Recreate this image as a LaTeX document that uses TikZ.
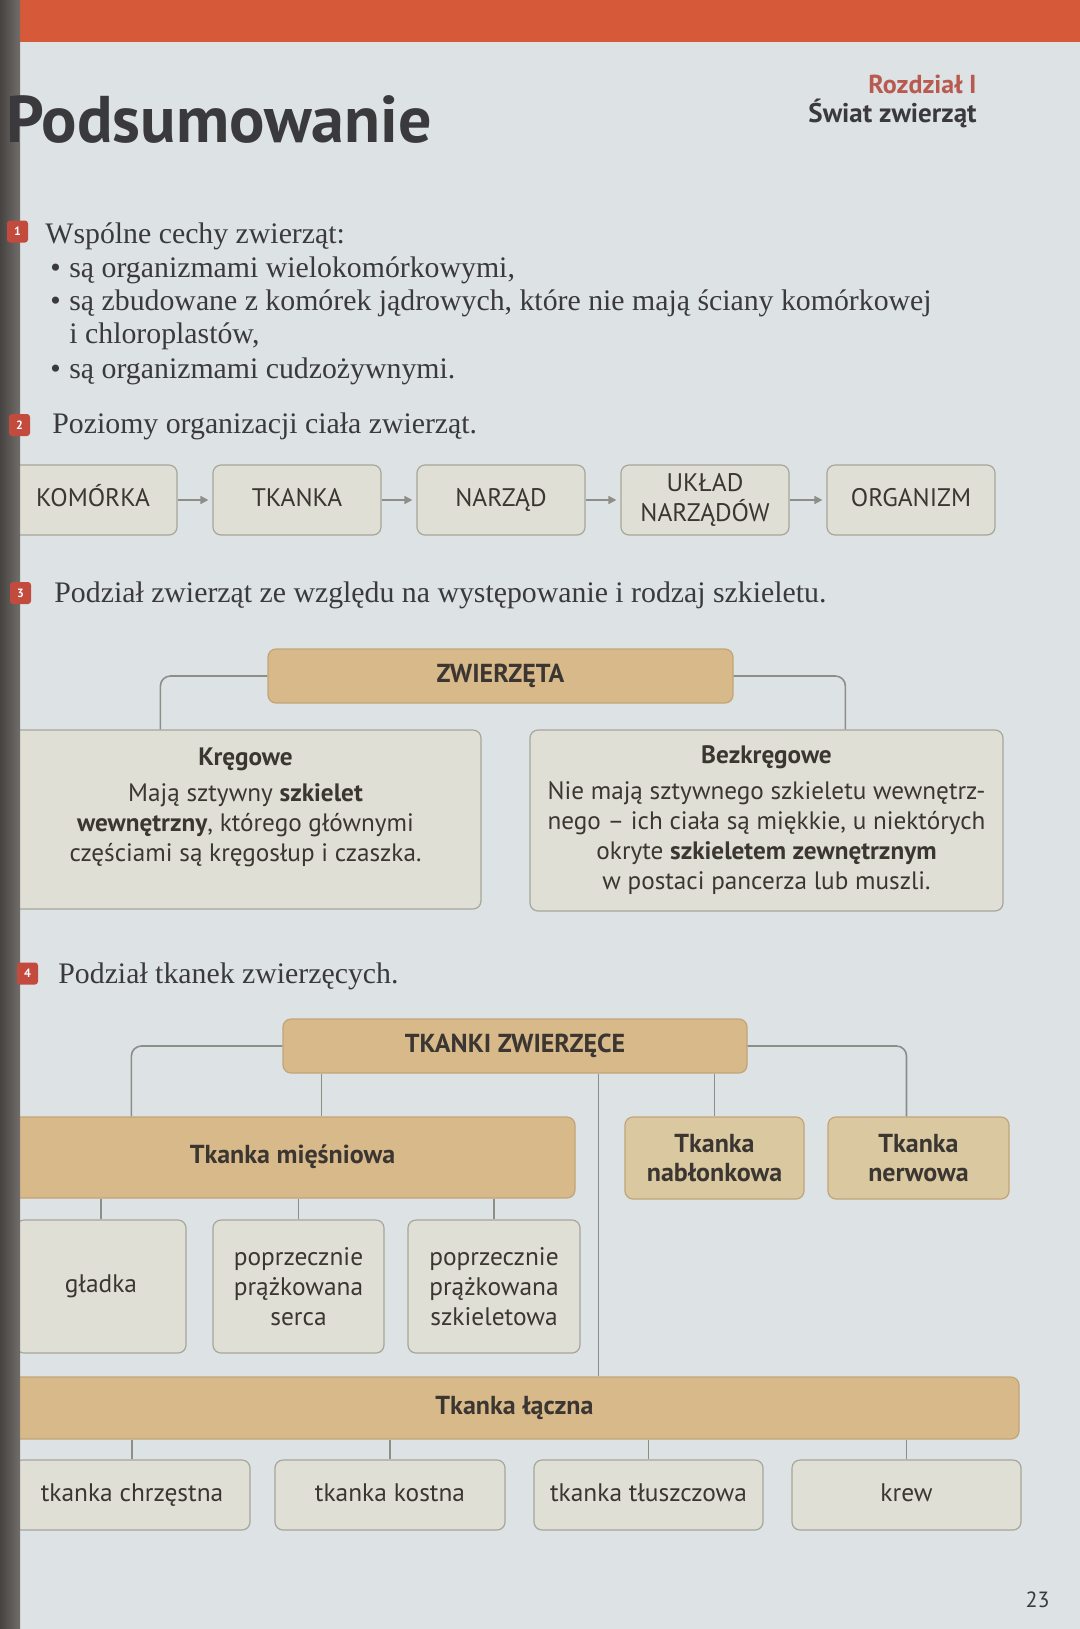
\documentclass[tikz,border=0pt]{standalone}
\usepackage{fontspec}
\setmainfont{Liberation Serif}
\setsansfont{PT Sans}
\usepackage{xcolor}
\usepackage{tikz}
\usetikzlibrary{calc,arrows.meta}
\definecolor{paper}{HTML}{DDE2E5}
\definecolor{band}{HTML}{D65A3A}
\definecolor{spine}{HTML}{5E5955}
\definecolor{tan}{HTML}{D8B98A}
\definecolor{tanline}{HTML}{C2A577}
\definecolor{tanlight}{HTML}{DAC8A0}
\definecolor{boxfill}{HTML}{DFDFD6}
\definecolor{boxline}{HTML}{A6A69A}
\definecolor{wirecol}{HTML}{8E8E88}
\definecolor{ink}{HTML}{3A3A3C}
\definecolor{boxink}{HTML}{3B3631}
\definecolor{markred}{HTML}{C24B3E}
\definecolor{chapter}{HTML}{B85A50}
\begin{document}
\begin{tikzpicture}[x=0.5pt,y=-0.5pt,
			lightbox/.style={draw=boxline,fill=boxfill,line width=0.6pt,rounded corners=4pt,font=\sffamily\fontsize{12.7}{15}\selectfont,text=boxink,align=center,inner sep=0pt},
			oneline/.style={text height=9pt,text depth=3pt},
			tanbox/.style={draw=tanline,fill=tan,line width=0.6pt,rounded corners=4pt,font=\sffamily\bfseries\fontsize{13}{14.5}\selectfont,text=boxink,align=center,inner sep=0pt},
			wire/.style={draw=wirecol,line width=0.8pt,rounded corners=5pt},
			flow/.style={draw=wirecol,line width=0.8pt,shorten >=2pt,-{Triangle[length=4pt,width=4pt]}},
			body/.style={font=\fontsize{14.9}{17}\selectfont,text=ink,anchor=base west,inner sep=0pt},
			numbox/.style={fill=markred,rounded corners=1.5pt,text=white,font=\sffamily\bfseries\fontsize{6}{6}\selectfont,inner sep=0pt,minimum width=10.5pt,minimum height=11pt}
		]
			\useasboundingbox (0,0) rectangle (1080,1629);
			\fill[paper] (0,0) rectangle (1080,1629);
			\fill[band] (0,0) rectangle (1080,42);

			\node[lightbox,oneline,minimum width=84pt,minimum height=35pt] (komorka) at (93,500) {KOMÓRKA};
			\node[lightbox,oneline,minimum width=84pt,minimum height=35pt] (tkanka) at (297,500) {TKANKA};
			\node[lightbox,oneline,minimum width=84pt,minimum height=35pt] (narzad) at (501,500) {NARZĄD};
			\node[lightbox,minimum width=84pt,minimum height=35pt] (uklad) at (705,500) {UKŁAD\\NARZĄDÓW};
			\node[lightbox,oneline,minimum width=84pt,minimum height=35pt] (organizm) at (911,500) {ORGANIZM};
			\draw[flow] (komorka) -- (tkanka);
			\draw[flow] (tkanka) -- (narzad);
			\draw[flow] (narzad) -- (uklad);
			\draw[flow] (uklad) -- (organizm);

			\node[tanbox,oneline,minimum width=232.5pt,minimum height=27pt] (zwierzeta) at (500.5,676) {ZWIERZĘTA};
			\node[lightbox,font=\sffamily\fontsize{12.6}{15}\selectfont,minimum width=235.5pt,minimum height=89.5pt] (kregowe) at (245.5,819.5)
			{\textbf{Kręgowe}\\[3pt]Mają sztywny \textbf{szkielet}\\\textbf{wewnętrzny}, którego głównymi\\częściami są kręgosłup i czaszka.\\\mbox{}};
			\node[lightbox,font=\sffamily\fontsize{12.6}{15}\selectfont,minimum width=236.5pt,minimum height=90.5pt] (bezkregowe) at (766.5,820.5)
			{\textbf{Bezkręgowe}\\[3pt]Nie mają sztywnego szkieletu wewnętrz-\\nego – ich ciała są miękkie, u niektórych\\okryte \textbf{szkieletem zewnętrznym}\\w postaci pancerza lub muszli.};
			\draw[wire] (zwierzeta.west) -| ($(kregowe.north west)+(151,0)$);
			\draw[wire] (zwierzeta.east) -| ($(bezkregowe.north west)+(316,0)$);

			\node[tanbox,oneline,minimum width=232pt,minimum height=27pt] (tkanki) at (515,1046) {TKANKI ZWIERZĘCE};
			\node[tanbox,oneline,minimum width=282.5pt,minimum height=40.5pt] (miesniowa) at (292.5,1157.5) {Tkanka mięśniowa};
			\node[tanbox,fill=tanlight,minimum width=89.5pt,minimum height=41pt] (nablonkowa) at (714.5,1158) {Tkanka\\nabłonkowa};
			\node[tanbox,fill=tanlight,minimum width=90.5pt,minimum height=41pt] (nerwowa) at (918.5,1158) {Tkanka\\nerwowa};
			\node[lightbox,oneline,minimum width=85pt,minimum height=66.5pt] (gladka) at (101,1286.5) {gładka};
			\node[lightbox,minimum width=85.5pt,minimum height=66.5pt] (serca) at (298.5,1286.5) {poprzecznie\\prążkowana\\serca};
			\node[lightbox,minimum width=86pt,minimum height=66.5pt] (szkieletowa) at (494,1286.5) {poprzecznie\\prążkowana\\szkieletowa};
			\node[tanbox,oneline,minimum width=504.5pt,minimum height=31pt] (laczna) at (514.5,1408) {Tkanka łączna};
			\node[lightbox,oneline,minimum width=118pt,minimum height=35pt] (chrzestna) at (132,1495) {tkanka chrzęstna};
			\node[lightbox,oneline,minimum width=115pt,minimum height=35pt] (kostna) at (390,1495) {tkanka kostna};
			\node[lightbox,oneline,minimum width=114.5pt,minimum height=35pt] (tluszczowa) at (648.5,1495) {tkanka tłuszczowa};
			\node[lightbox,oneline,minimum width=114.5pt,minimum height=35pt] (krew) at (906.5,1495) {krew};
			\draw[wire] (tkanki.west) -| ($(miesniowa.north west)+(122,0)$);
			\draw[wire] (tkanki.east) -| ($(nerwowa.north)+(-12,0)$);
			\draw[wire] ($(tkanki.south west)+(39,0)$) -- ($(miesniowa.north west)+(312,0)$);
			\draw[wire] (nablonkowa.north |- tkanki.south) -- (nablonkowa.north);
			\draw[wire] ($(tkanki.south west)+(316,0)$) -- ($(laczna.north west)+(589,0)$);
			\draw[wire] (gladka.north |- miesniowa.south) -- (gladka.north);
			\draw[wire] (serca.north |- miesniowa.south) -- (serca.north);
			\draw[wire] (szkieletowa.north |- miesniowa.south) -- (szkieletowa.north);
			\draw[wire] (chrzestna.north |- laczna.south) -- (chrzestna.north);
			\draw[wire] (kostna.north |- laczna.south) -- (kostna.north);
			\draw[wire] (tluszczowa.north |- laczna.south) -- (tluszczowa.north);
			\draw[wire] (krew.north |- laczna.south) -- (krew.north);

			\shade[left color=spine!75!black,right color=spine!85!paper] (0,0) rectangle (20,1629);

			\node[anchor=base west,inner sep=0pt,font=\sffamily\bfseries\fontsize{33}{33}\selectfont,text=ink] (title) at (6,142) {Podsumowanie};
			\node[anchor=base east,inner sep=0pt,font=\sffamily\bfseries\fontsize{13}{14}\selectfont,text=chapter] (rozdzial) at (977,93) {Rozdział I};
			\node[anchor=base east,inner sep=0pt,font=\sffamily\bfseries\fontsize{13.5}{14}\selectfont,text=ink] (swiat) at (977,122) {Świat zwierząt};

			\node[numbox] (n1) at (17.5,231.5) {1};
			\node[body] (cechy) at (45,243) {Wspólne cechy zwierząt:};
			\node[body] (c1) at (50,277) {\makebox[9.5pt][l]{\textbullet}są organizmami wielokomórkowymi,};
			\node[body] (c2) at (50,310) {\makebox[9.5pt][l]{\textbullet}są zbudowane z komórek jądrowych, które nie mają ściany komórkowej};
			\node[body] (c2b) at (69,343) {i chloroplastów,};
			\node[body] (c3) at (50,378) {\makebox[9.5pt][l]{\textbullet}są organizmami cudzożywnymi.};
			\node[numbox] (n2) at (19.5,425) {2};
			\node[body] (poziomy) at (52,433) {Poziomy organizacji ciała zwierząt.};
			\node[numbox] (n3) at (20.5,593) {3};
			\node[body] (podzial) at (54,602) {Podział zwierząt ze względu na występowanie i rodzaj szkieletu.};
			\node[numbox] (n4) at (27.5,973.5) {4};
			\node[body] (tkanek) at (58,983) {Podział tkanek zwierzęcych.};

			\node[anchor=base east,inner sep=0pt,font=\sffamily\fontsize{11}{12}\selectfont,text=ink] (strona) at (1050,1607) {23};
		\end{tikzpicture}
\end{document}
